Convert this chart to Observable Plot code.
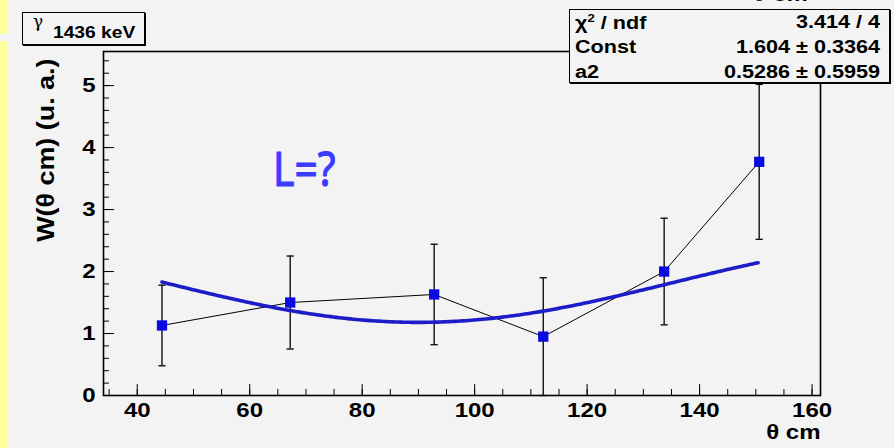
<!DOCTYPE html>
<html>
<head>
<meta charset="utf-8">
<script src="https://cdn.jsdelivr.net/npm/d3@7"></script>
<script src="https://cdn.jsdelivr.net/npm/@observablehq/plot@0.6"></script>
<style>
  html, body { margin: 0; padding: 0; background: #f3f3f3; }
  #wrap { position: relative; width: 894px; height: 448px; overflow: hidden;
          font-family: "Liberation Sans", Arial, Helvetica, sans-serif; color: #000; }
  #wrap svg { position: absolute; left: 0; top: 0; }
  .strip { position: absolute; left: 0; width: 7px; background: #ffff9c; }
  .box { position: absolute; background: #f3f3f3; border: 1.5px solid #000;
         box-shadow: 1px 1px 0 #000; box-sizing: border-box; }
  .t { position: absolute; white-space: nowrap; font-weight: bold; line-height: 1; }
  .l { transform: scaleX(1.2); transform-origin: left center; }
  .r { transform: scaleX(1.2); transform-origin: right center; }
  .sym { font-family: "DejaVu Serif", serif; font-weight: normal; }
</style>
</head>
<body>
<div id="wrap">
  <div class="strip" style="top:0;height:34px"></div>
  <div class="strip" style="top:41px;height:407px"></div>
  <div id="chart"></div>
  <div class="t l" style="left:752px;top:-16px;font-size:20px"><span class="sym">θ</span> cm</div>
  <div class="box" id="titlebox" style="left:22px;top:12px;width:123px;height:33px">
    <span class="t sym" id="gammaLabel" style="left:10px;top:0px;font-size:17px"></span>
    <span class="t l" id="energyLabel" style="left:30px;top:12px;font-size:16px"></span>
  </div>
  <div class="box" id="statsbox" style="left:569px;top:9px;width:321px;height:74px"></div>
</div>
<script>
// Angular distribution W(θ) of the 1436 keV gamma line, centre-of-mass angles
const thetaCm = [44.4, 67.2, 92.8, 112.2, 133.7, 150.6];
const wValues = [1.13, 1.50, 1.63, 0.95, 2.00, 3.77];
const wErrors = [0.65, 0.75, 0.81, 0.95, 0.86, 1.25];

// Legendre fit W = Const * (1 + a2 * P2(cos θ)) and its statistics
const fitNames  = ["Const", "a2"];
const fitValues = [1.604, 0.5286];
const fitErrors = [0.3364, 0.5959];
const chi2 = 3.414, ndf = 4;

const xTicks = [40, 60, 80, 100, 120, 140, 160];
const yTicks = [0, 1, 2, 3, 4, 5];

const gammaText = "γ";
const energyText = "1436 keV";
const yTitle = "W(θ cm) (u. a.)";
const xTitle = "θ cm";
const note = "L=?";

// geometry
const W = 894, H = 448, mL = 103, mR = 74, mT = 51, mB = 53;
const fw = W - mL - mR, fh = H - mT - mB;

const points = thetaCm.map((t, i) => ({t, w: wValues[i], e: wErrors[i]}));

const [c0, a2] = fitValues;
const P2 = x => (3 * x * x - 1) / 2;
const fitCurve = d3.range(thetaCm[0], thetaCm[thetaCm.length - 1] + 0.001, 0.5)
  .map(t => ({t, w: c0 * (1 + a2 * P2(Math.cos(t * Math.PI / 180)))}));

const caps = points.flatMap(d => [{t: d.t, w: d.w - d.e}, {t: d.t, w: d.w + d.e}]);
const capSymbol = {
  draw(ctx, size) {
    const r = Math.sqrt(size / Math.PI);
    ctx.moveTo(-r * 0.9, 0);
    ctx.lineTo(r * 0.9, 0);
  }
};

const plot = Plot.plot({
  width: W, height: H,
  marginLeft: mL, marginRight: mR, marginTop: mT, marginBottom: mB,
  style: {background: "transparent", fontFamily: "Liberation Sans, Arial, sans-serif", color: "#000"},
  x: {domain: [34, 161.5]},
  y: {domain: [0, 5.55]},
  marks: [
    // inward ticks
    Plot.ruleX(d3.range(35, 161, 5), {stroke: "#000", strokeWidth: 1, insetTop: fh - 6}),
    Plot.ruleX(xTicks, {stroke: "#000", strokeWidth: 1, insetTop: fh - 11}),
    Plot.ruleY(d3.range(0, 5.5, 0.2), {stroke: "#000", strokeWidth: 1, insetRight: fw - 6}),
    Plot.ruleY(yTicks, {stroke: "#000", strokeWidth: 1, insetRight: fw - 11}),
    Plot.axisX({ticks: xTicks, tickSize: 0, tickPadding: 7, fontSize: 20, fontWeight: "bold", label: null, tickFormat: d => d}),
    Plot.axisY({ticks: yTicks, tickSize: 0, tickPadding: 8, fontSize: 20, fontWeight: "bold", label: null, tickFormat: d => d}),
    Plot.frame({stroke: "#000", strokeWidth: 1.6}),
    // axis titles
    Plot.text([yTitle], {frameAnchor: "top-left", rotate: -90, textAnchor: "end",
      dx: -66, dy: 7, fontSize: 23, fontWeight: "bold", fill: "#000"}),
    Plot.text([xTitle], {frameAnchor: "bottom-right", textAnchor: "end",
      dx: 0, dy: 43, fontSize: 20, fontWeight: "bold", fill: "#000"}),
    // data: connecting line, error bars, markers
    Plot.line(points, {x: "t", y: "w", stroke: "#000", strokeWidth: 1}),
    Plot.ruleX(points, {x: "t", y1: d => d.w - d.e, y2: d => d.w + d.e, stroke: "#111", strokeWidth: 1.4}),
    Plot.dot(caps, {x: "t", y: "w", symbol: capSymbol, r: 4, stroke: "#111", strokeWidth: 1.4, fill: "none"}),
    Plot.line(fitCurve, {x: "t", y: "w", stroke: "#1c1cc8", strokeWidth: 3.6, curve: "linear"}),
    Plot.dot(points, {x: "t", y: "w", symbol: "square", r: 5.8, fill: "#0a0ae0", stroke: "none"}),
    // handwritten note
    Plot.text([note], {x: 69.7, y: 3.63, fontSize: 48, fontFamily: "Noto Sans, DejaVu Sans, sans-serif",
      fill: "#3b3bff", stroke: "#3b3bff", strokeWidth: 1.2, strokeLinejoin: "round"})
  ]
});
document.getElementById("chart").appendChild(plot);

// widen horizontal lettering
const stretch = (sel, sx) => plot.querySelectorAll(sel).forEach(el => {
  const tr = el.getAttribute("transform") || "";
  el.setAttribute("transform", tr + ` scale(${sx},1)`);
});
stretch('g[aria-label="x-axis tick label"] text', 1.2);
stretch('g[aria-label="y-axis tick label"] text', 1.2);
plot.querySelectorAll('g[aria-label="text"] text').forEach(el => {
  const tr = el.getAttribute("transform");
  if (el.textContent === xTitle) el.setAttribute("transform", tr + " scale(1.2,1)");
  else if (el.textContent === note) el.setAttribute("transform", tr + " scale(0.85,1)");
  else if (el.textContent === yTitle) el.setAttribute("transform", tr + " scale(1.17,1)");
});

// title box
document.getElementById("gammaLabel").textContent = gammaText;
document.getElementById("energyLabel").textContent = energyText;

// statistics box
const stats = document.getElementById("statsbox");
const rows = [
  {label: "χ<sup style='font-size:11px'>2</sup> / ndf", value: `${chi2} / ${ndf}`},
  ...fitNames.map((n, i) => ({label: n, value: `${fitValues[i]} ± ${fitErrors[i]}`}))
];
rows.forEach((r, i) => {
  const top = 3 + i * 25;
  const lab = document.createElement("div");
  lab.className = "t l";
  lab.style.cssText = `left:5px;top:${top}px;font-size:18px`;
  lab.innerHTML = r.label;
  stats.appendChild(lab);
  const val = document.createElement("div");
  val.className = "t r";
  val.style.cssText = `right:9px;top:${top}px;font-size:18px`;
  val.textContent = r.value;
  stats.appendChild(val);
});
</script>
</body>
</html>
